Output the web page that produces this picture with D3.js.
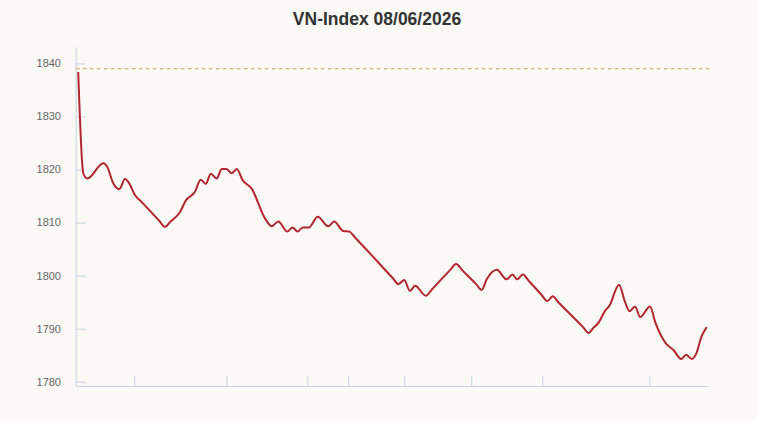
<!DOCTYPE html>
<html>
<head>
<meta charset="utf-8">
<script src="https://cdn.jsdelivr.net/npm/d3@7"></script>
<style>
  html, body { margin: 0; padding: 0; background: #faf9f6; }
  svg { display: block; font-family: "Liberation Sans", Arial, sans-serif; }
</style>
</head>
<body>
<svg id="chart" width="757" height="421"></svg>
<script>
// session time (minutes-ish index) and index value
const times = [1.2, 3.6, 5.5, 13.1, 15.0, 17.8, 20.7, 23.4, 25.4, 28.1,
  31.0, 39.5, 42.4, 45.0, 49.5, 52.3, 56.6, 59.3, 61.7, 64.1,
  66.9, 69.3, 71.6, 74.0, 76.4, 79.2, 83.5, 89.8, 93.0, 96.1,
  100.4, 102.8, 105.3, 107.7, 110.7, 114.8, 119.9, 122.6, 127.0, 129.8,
  132.5, 150.5, 153.1, 155.9, 158.6, 161.0, 166.1, 169.0, 177.5, 180.5,
  183.5, 190.0, 192.6, 195.0, 199.8, 204.5, 207.2, 209.5, 212.1, 215.0,
  221.0, 223.8, 226.3, 229.0, 240.5, 243.4, 245.5, 248.0, 251.2, 253.2,
  257.8, 260.6, 262.7, 265.4, 267.8, 272.5, 274.9, 280.1, 283.6, 287.3,
  289.6, 292.3, 294.3, 297.0, 299.4];
const values = [1838.4, 1819.3, 1818.3, 1821.2, 1820.5, 1817.4, 1816.3, 1818.2, 1817.4, 1815.2,
  1814.0, 1810.4, 1809.2, 1810.2, 1812.0, 1814.2, 1815.8, 1818.1, 1817.3, 1819.2,
  1818.3, 1820.1, 1820.1, 1819.3, 1820.1, 1818.0, 1816.4, 1810.8, 1809.3, 1810.2,
  1808.3, 1809.1, 1808.3, 1809.1, 1809.1, 1811.1, 1809.3, 1810.2, 1808.4, 1808.3,
  1807.2, 1799.5, 1798.4, 1799.2, 1797.1, 1798.1, 1796.2, 1797.4, 1801.0, 1802.2,
  1801.0, 1798.4, 1797.3, 1799.3, 1801.1, 1799.3, 1800.2, 1799.3, 1800.2, 1799.0,
  1796.4, 1795.2, 1796.1, 1795.0, 1790.4, 1789.2, 1790.1, 1791.1, 1793.4, 1794.3,
  1798.3, 1795.1, 1793.3, 1794.2, 1792.2, 1794.2, 1791.3, 1787.2, 1786.0, 1784.3,
  1785.1, 1784.3, 1785.2, 1788.6, 1790.3];
const refValue = 1839.0;
const yTicks = [1780, 1790, 1800, 1810, 1820, 1830, 1840];
const xTicks = [27.8, 71.5, 109.9, 129.3, 155.9, 187.7, 221.4, 272.2];
const title = "VN-Index 08/06/2026";

const data = times.map((t, i) => ({ t: t, v: values[i] }));

const margin = { top: 47, right: 49, bottom: 35, left: 75.7 };
const width = 757, height = 421;

const svg = d3.select("#chart");

const xScale = d3.scaleLinear()
  .domain([0, 300])
  .range([margin.left, width - margin.right]);
const yScale = d3.scaleLinear()
  .domain([1779.2, 1843.1])
  .range([height - margin.bottom, margin.top]);

// title
svg.append("text")
  .attr("x", 377)
  .attr("y", 25)
  .attr("text-anchor", "middle")
  .style("font-size", "17.5px")
  .style("font-weight", "bold")
  .style("fill", "#333")
  .text(title);

const axisColor = "#c9d2e2";

// y axis: ticks drawn inward
const yAxis = svg.append("g")
  .attr("transform", `translate(${margin.left},0)`)
  .call(d3.axisRight(yScale).tickValues(yTicks).tickSize(10).tickSizeOuter(0).tickFormat(""));
yAxis.select(".domain").attr("stroke", axisColor);
yAxis.selectAll(".tick line").attr("stroke", axisColor);

svg.append("g")
  .selectAll("text")
  .data(yTicks)
  .join("text")
  .attr("x", 61)
  .attr("y", d => yScale(d))
  .attr("dy", "0.35em")
  .attr("text-anchor", "end")
  .style("font-size", "11px")
  .style("fill", "#666")
  .text(d => d);

// x axis: ticks point up, no labels
const xAxis = svg.append("g")
  .attr("transform", `translate(0,${height - margin.bottom})`)
  .call(d3.axisTop(xScale).tickValues(xTicks).tickSize(10).tickSizeOuter(0).tickFormat(""));
xAxis.select(".domain").attr("stroke", axisColor);
xAxis.selectAll(".tick line").attr("stroke", axisColor);

// reference (previous close) line
svg.append("line")
  .attr("x1", xScale(0))
  .attr("x2", xScale(300) + 2)
  .attr("y1", yScale(refValue))
  .attr("y2", yScale(refValue))
  .attr("stroke", "#c9a25e")
  .attr("stroke-width", 1)
  .attr("stroke-dasharray", "4,3");

// index line
const createLine = d3.line()
  .x(d => xScale(d.t))
  .y(d => yScale(d.v))
  .curve(d3.curveMonotoneX);

svg.append("path")
  .datum(data)
  .attr("d", createLine)
  .attr("fill", "none")
  .attr("stroke", "#b3262f")
  .attr("stroke-width", 2)
  .attr("stroke-linejoin", "round");
</script>
</body>
</html>
